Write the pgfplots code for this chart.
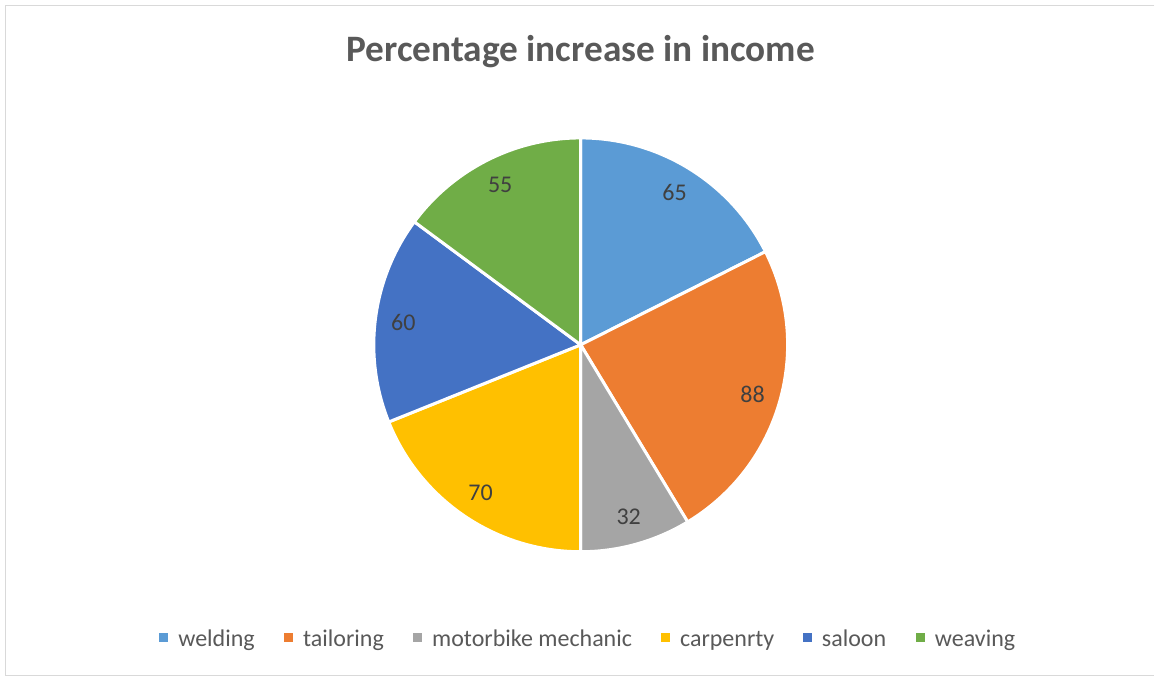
\documentclass[border=0pt]{standalone}
\usepackage{pgfplots}
\pgfplotsset{compat=1.18}
\usepackage{pgfplotstable}
\usepackage{fontspec}
\setmainfont{Carlito}
\definecolor{cA}{HTML}{5B9BD5}
\definecolor{cB}{HTML}{ED7D31}
\definecolor{cC}{HTML}{A5A5A5}
\definecolor{cD}{HTML}{FFC000}
\definecolor{cE}{HTML}{4472C4}
\definecolor{cF}{HTML}{70AD47}
\definecolor{titlegray}{HTML}{595959}
\definecolor{labelgray}{HTML}{404040}
\definecolor{bordergray}{HTML}{D9D9D9}

\pgfplotstableread[col sep=comma]{
label,value,col,lx
welding,65,cA,178
tailoring,88,cB,303
motorbike mechanic,32,cC,432
carpenrty,70,cD,680
saloon,60,cE,822
weaving,55,cF,935
}\piedata

% precompute slice angles from the table
\pgfplotstablegetrowsof{\piedata}\pgfmathtruncatemacro\N{\pgfplotsretval-1}
\xdef\tot{0}
\foreach \i in {0,...,\N}{
  \pgfplotstablegetelem{\i}{value}\of\piedata
  \pgfmathsetmacro\nt{\tot+\pgfplotsretval}\xdef\tot{\nt}
}
\xdef\cum{0}
\foreach \i in {0,...,\N}{
  \pgfplotstablegetelem{\i}{value}\of\piedata \edef\vs{\pgfplotsretval}
  \pgfplotstablegetelem{\i}{col}\of\piedata \expandafter\xdef\csname pc\i\endcsname{\pgfplotsretval}
  \pgfplotstablegetelem{\i}{label}\of\piedata \expandafter\xdef\csname pl\i\endcsname{\pgfplotsretval}
  \pgfplotstablegetelem{\i}{lx}\of\piedata \expandafter\xdef\csname px\i\endcsname{\pgfplotsretval}
  \expandafter\xdef\csname pv\i\endcsname{\vs}
  \pgfmathsetmacro\a{90-\cum/\tot*360}
  \pgfmathsetmacro\b{90-(\cum+\vs)/\tot*360}
  \pgfmathsetmacro\m{(\a+\b)/2}
  \expandafter\xdef\csname pa\i\endcsname{\a}
  \expandafter\xdef\csname pb\i\endcsname{\b}
  \expandafter\xdef\csname pm\i\endcsname{\m}
  \pgfmathsetmacro\sx{\csname px\i\endcsname-14}
  \pgfmathsetmacro\sxa{\sx-4.5}\pgfmathsetmacro\sxb{\sx+4.5}
  \expandafter\xdef\csname psa\i\endcsname{\sxa}
  \expandafter\xdef\csname psb\i\endcsname{\sxb}
  \pgfmathsetmacro\nc{\cum+\vs}\xdef\cum{\nc}
}

\begin{document}
\begin{tikzpicture}
\begin{axis}[x=0.5pt,y=0.5pt,xmin=0,xmax=1155,ymin=0,ymax=677,
  hide axis, clip=false]
\addplot[draw=none] coordinates {(0,0) (1155,677)};
\pgfplotsextra{
  \fill[white] (axis cs:0,0) rectangle (axis cs:1155,677);
  \draw[bordergray, line width=0.6pt] (axis cs:1155,671.5) -- (axis cs:5.5,671.5) -- (axis cs:5.5,1) -- (axis cs:1155,1);
  \node[anchor=base, text=titlegray, font=\fontsize{18.65}{22}\selectfont\bfseries]
    at (axis cs:581,615) {Percentage increase in income};
  \foreach \i in {0,...,5}{
    \edef\a{\csname pa\i\endcsname}\edef\b{\csname pb\i\endcsname}
    \edef\m{\csname pm\i\endcsname}\edef\c{\csname pc\i\endcsname}
    \filldraw[fill=\c, draw=white, line width=1.5pt, line join=round]
      (axis cs:581,332) -- ++(\a:103.5pt) arc[start angle=\a, end angle=\b, radius=103.5pt] -- cycle;
    \path (axis cs:581,332) ++(\m:89.5pt) node[text=labelgray, font=\fontsize{12}{14}\selectfont] {\csname pv\i\endcsname};
    \fill[\c] (axis cs:\csname psa\i\endcsname,34.5) rectangle (axis cs:\csname psb\i\endcsname,43.5);
    \node[anchor=base west, inner sep=0pt, text=titlegray, font=\fontsize{12}{14}\selectfont]
      at (axis cs:\csname px\i\endcsname,30) {\csname pl\i\endcsname};
  }
}
\end{axis}
\end{tikzpicture}
\end{document}
